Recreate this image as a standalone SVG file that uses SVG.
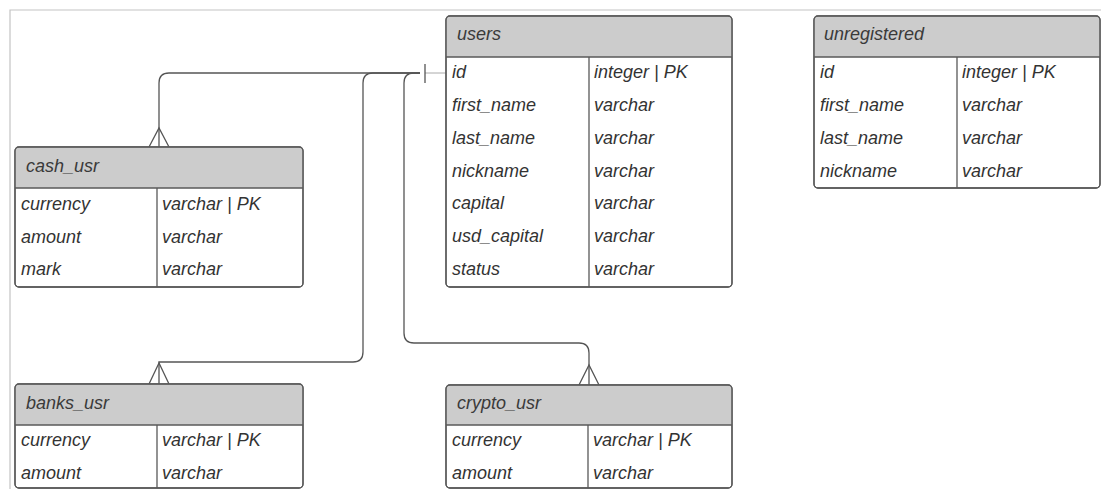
<svg xmlns="http://www.w3.org/2000/svg" width="1101" height="489" viewBox="0 0 1101 489">
  <style>
    .frame { stroke: #c4c4c4; stroke-width: 1.2; fill: none; }
    .box { fill: #ffffff; stroke: #595959; stroke-width: 1.3; }
    .head { fill: #cccccc; }
    .rule { stroke: #595959; stroke-width: 1.3; fill: none; }
    .title { font-family: "Liberation Sans", Arial, sans-serif; font-style: italic; font-size: 18px; fill: #3a3a3a; }
    .cell { font-family: "Liberation Sans", Arial, sans-serif; font-style: italic; font-size: 18px; fill: #333333; }
    .link { stroke: #555555; stroke-width: 1.3; fill: none; }
    .stub { stroke: #aaaaaa; stroke-width: 1; fill: none; }
  </style>

  <rect width="1101" height="489" fill="#ffffff"/>
  <!-- page frame -->
  <path class="frame" d="M10,489 V10 H1101"/>

  <!-- relationship lines -->
  <g id="connectors">
    <path class="stub" d="M425,73 H446"/>
    <path class="link" d="M420,73 H169 Q159,73 159,83 V147"/>
    <path class="link" d="M420,73 H373 Q363,73 363,83 V352 Q363,362 353,362 H159 V384"/>
    <path class="link" d="M420,73 H414 Q404,73 404,83 V333 Q404,343 414,343 H579 Q589,343 589,353 V385"/>
    <!-- one side -->
    <path class="link" d="M425,64 V83"/>
    <!-- many sides -->
    <path class="link" d="M149,147 L159,128 L169,147"/>
    <path class="link" d="M149,384 L159,363 L169,384"/>
    <path class="link" d="M579,385 L589,365 L599,385"/>
  </g>

  <!-- users -->
  <g id="users">
    <rect class="box" x="446" y="16" width="286" height="271" rx="4"/>
    <path class="head" d="M450,16.7 H728 Q731.3,16.7 731.3,20 V57 H446.7 V20 Q446.7,16.7 450,16.7 Z"/>
    <rect class="box" x="446" y="16" width="286" height="271" rx="4" fill="none" style="fill:none"/>
    <path class="rule" d="M446,57 H732 M589,57 V287"/>
    <text class="title" x="457" y="40">users</text>
    <text class="cell" x="452" y="78">id</text>
    <text class="cell" x="594" y="78">integer | PK</text>
    <text class="cell" x="452" y="111">first_name</text>
    <text class="cell" x="594" y="111">varchar</text>
    <text class="cell" x="452" y="144">last_name</text>
    <text class="cell" x="594" y="144">varchar</text>
    <text class="cell" x="452" y="177">nickname</text>
    <text class="cell" x="594" y="177">varchar</text>
    <text class="cell" x="452" y="209">capital</text>
    <text class="cell" x="594" y="209">varchar</text>
    <text class="cell" x="452" y="242">usd_capital</text>
    <text class="cell" x="594" y="242">varchar</text>
    <text class="cell" x="452" y="275">status</text>
    <text class="cell" x="594" y="275">varchar</text>
  </g>

  <!-- unregistered -->
  <g id="unregistered">
    <rect class="box" x="814" y="16" width="286" height="172" rx="4"/>
    <path class="head" d="M818,16.7 H1096 Q1099.3,16.7 1099.3,20 V57 H814.7 V20 Q814.7,16.7 818,16.7 Z"/>
    <rect class="box" x="814" y="16" width="286" height="172" rx="4" style="fill:none"/>
    <path class="rule" d="M814,57 H1100 M957,57 V188"/>
    <text class="title" x="824" y="40">unregistered</text>
    <text class="cell" x="820" y="78">id</text>
    <text class="cell" x="962" y="78">integer | PK</text>
    <text class="cell" x="820" y="111">first_name</text>
    <text class="cell" x="962" y="111">varchar</text>
    <text class="cell" x="820" y="144">last_name</text>
    <text class="cell" x="962" y="144">varchar</text>
    <text class="cell" x="820" y="177">nickname</text>
    <text class="cell" x="962" y="177">varchar</text>
  </g>

  <!-- cash_usr -->
  <g id="cash_usr">
    <rect class="box" x="15" y="147" width="288" height="140" rx="4"/>
    <path class="head" d="M19,147.7 H299 Q302.3,147.7 302.3,151 V188 H15.7 V151 Q15.7,147.7 19,147.7 Z"/>
    <rect class="box" x="15" y="147" width="288" height="140" rx="4" style="fill:none"/>
    <path class="rule" d="M15,188 H303 M157,188 V287"/>
    <text class="title" x="26" y="172">cash_usr</text>
    <text class="cell" x="21" y="210">currency</text>
    <text class="cell" x="162" y="210">varchar | PK</text>
    <text class="cell" x="21" y="243">amount</text>
    <text class="cell" x="162" y="243">varchar</text>
    <text class="cell" x="21" y="275">mark</text>
    <text class="cell" x="162" y="275">varchar</text>
  </g>

  <!-- banks_usr -->
  <g id="banks_usr">
    <rect class="box" x="15" y="384" width="288" height="104" rx="4"/>
    <path class="head" d="M19,384.7 H299 Q302.3,384.7 302.3,388 V425 H15.7 V388 Q15.7,384.7 19,384.7 Z"/>
    <rect class="box" x="15" y="384" width="288" height="104" rx="4" style="fill:none"/>
    <path class="rule" d="M15,425 H303 M157,425 V488"/>
    <text class="title" x="26" y="409">banks_usr</text>
    <text class="cell" x="21" y="446">currency</text>
    <text class="cell" x="162" y="446">varchar | PK</text>
    <text class="cell" x="21" y="479">amount</text>
    <text class="cell" x="162" y="479">varchar</text>
  </g>

  <!-- crypto_usr -->
  <g id="crypto_usr">
    <rect class="box" x="446" y="385" width="286" height="103" rx="4"/>
    <path class="head" d="M450,385.7 H728 Q731.3,385.7 731.3,389 V425 H446.7 V389 Q446.7,385.7 450,385.7 Z"/>
    <rect class="box" x="446" y="385" width="286" height="103" rx="4" style="fill:none"/>
    <path class="rule" d="M446,425 H732 M588,425 V488"/>
    <text class="title" x="457" y="409">crypto_usr</text>
    <text class="cell" x="452" y="446">currency</text>
    <text class="cell" x="593" y="446">varchar | PK</text>
    <text class="cell" x="452" y="479">amount</text>
    <text class="cell" x="593" y="479">varchar</text>
  </g>
</svg>
